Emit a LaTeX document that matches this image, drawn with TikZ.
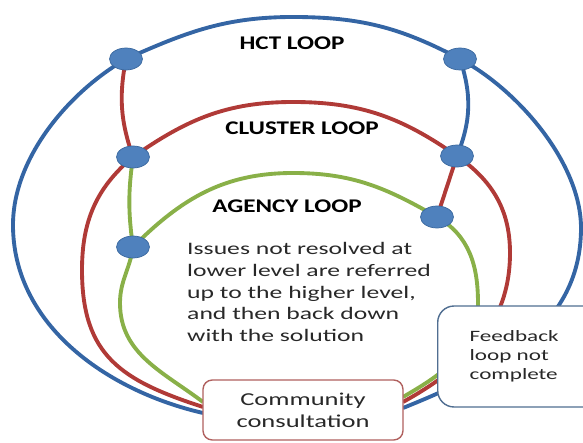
\documentclass[tikz,border=0pt]{standalone}
\usepackage{fontspec}
\setmainfont{Carlito}[FakeStretch=1.3]
\newfontfamily\widefont{Carlito}[FakeStretch=1.46]
\usetikzlibrary{positioning,shapes.geometric}

\definecolor{hctblue}{RGB}{52,101,164}
\definecolor{clusterred}{RGB}{176,58,55}
\definecolor{agencygreen}{RGB}{137,176,72}
\definecolor{dotblue}{RGB}{79,129,189}
\definecolor{dotedge}{RGB}{58,104,158}
\definecolor{boxred}{RGB}{176,96,94}
\definecolor{boxblue}{RGB}{80,110,145}
\definecolor{txtgray}{RGB}{40,40,40}

\tikzset{
  hctline/.style={draw=hctblue, line width=3.3pt},
  clusterline/.style={draw=clusterred, line width=3.3pt},
  agencyline/.style={draw=agencygreen, line width=3.3pt},
  joint/.style={ellipse, minimum width=0.99cm, minimum height=0.66cm, inner sep=0pt, fill=dotblue, draw=dotedge, line width=0.6pt},
  looptitle/.style={font=\fontsize{16.5pt}{20pt}\selectfont\bfseries, text=black},
  issuetext/.style={font=\widefont\fontsize{15pt}{18.4pt}\selectfont, align=left, inner sep=0pt, text=txtgray},
  communitybox/.style={draw=boxred, fill=white, line width=1.2pt, rounded corners=8pt, minimum width=6cm, minimum height=1.8cm, align=center, text=txtgray, font=\widefont\fontsize{15.5pt}{18.8pt}\selectfont},
  feedbackbox/.style={draw=boxblue, fill=white, line width=1.2pt, rounded corners=14pt, minimum height=3.03cm, text width=3cm, inner xsep=0.96cm, align=left, text=txtgray, font=\widefont\fontsize{13.5pt}{16.2pt}\selectfont}
}

\begin{document}
\begin{tikzpicture}[x=0.03cm,y=0.03cm]
\useasboundingbox (0,0) rectangle (583,442);
\clip (0,0) rectangle (583,442);

% joints where the loops meet
\coordinate (h1) at (126,383);
\coordinate (h2) at (460,383);
\coordinate (c1) at (133,285);
\coordinate (c2) at (457,286);
\coordinate (a1) at (133,195);
\coordinate (a2) at (437,225);

% the three loops
\draw[hctline] (203,29) to[out=167,in=270,looseness=0.95] (13,217)
  to[out=90,in=210,looseness=0.85] (h1) to[out=24,in=180] (293,425)
  to[out=0,in=152] (h2) to[out=-28,in=90,looseness=0.8] (581,214)
  to[out=270,in=22] (403,34);
\draw[clusterline] (203,35) to[out=162,in=270,looseness=1.2] (82,172)
  to[out=90,in=220] (c1) to[out=35,in=180] (293,340)
  to[out=0,in=145] (c2) to[out=-35,in=90] (510,189)
  to[out=270,in=29] (403,40);
\draw[agencyline] (203,40) to[out=143,in=270] (120,139)
  to[out=90,in=262] (a1) to[out=45,in=180] (293,269)
  to[out=0,in=150] (a2) to[out=-30,in=90] (478,139)
  to[out=270,in=30] (403,45);

% links between levels
\draw[clusterline] (h1) to[bend right=15] (c1);
\draw[hctline] (h2) to[bend left=20] (c2);
\draw[agencyline] (c1) to[bend right=8] (a1);
\draw[clusterline] (c2) -- (a2);

\foreach \j in {h1,h2,c1,c2,a1,a2}
  \node[joint] (dot-\j) at (\j) {};

\node[looptitle] (hct) at (292,399) {HCT LOOP};
\node[looptitle] (cluster) at (302,314) {CLUSTER LOOP};
\node[looptitle] (agency) at (287,236) {AGENCY LOOP};

\node[issuetext, anchor=west] (issues) at (187,150) {Issues not resolved at\\lower level are referred\\up to the higher level,\\and then back down\\with the solution};

\node[communitybox] (community) at (303,32) {Community\\consultation};
\node[feedbackbox, anchor=west] (feedback) at (437,85.5) {Feedback\\loop not\\complete};

\end{tikzpicture}
\end{document}
